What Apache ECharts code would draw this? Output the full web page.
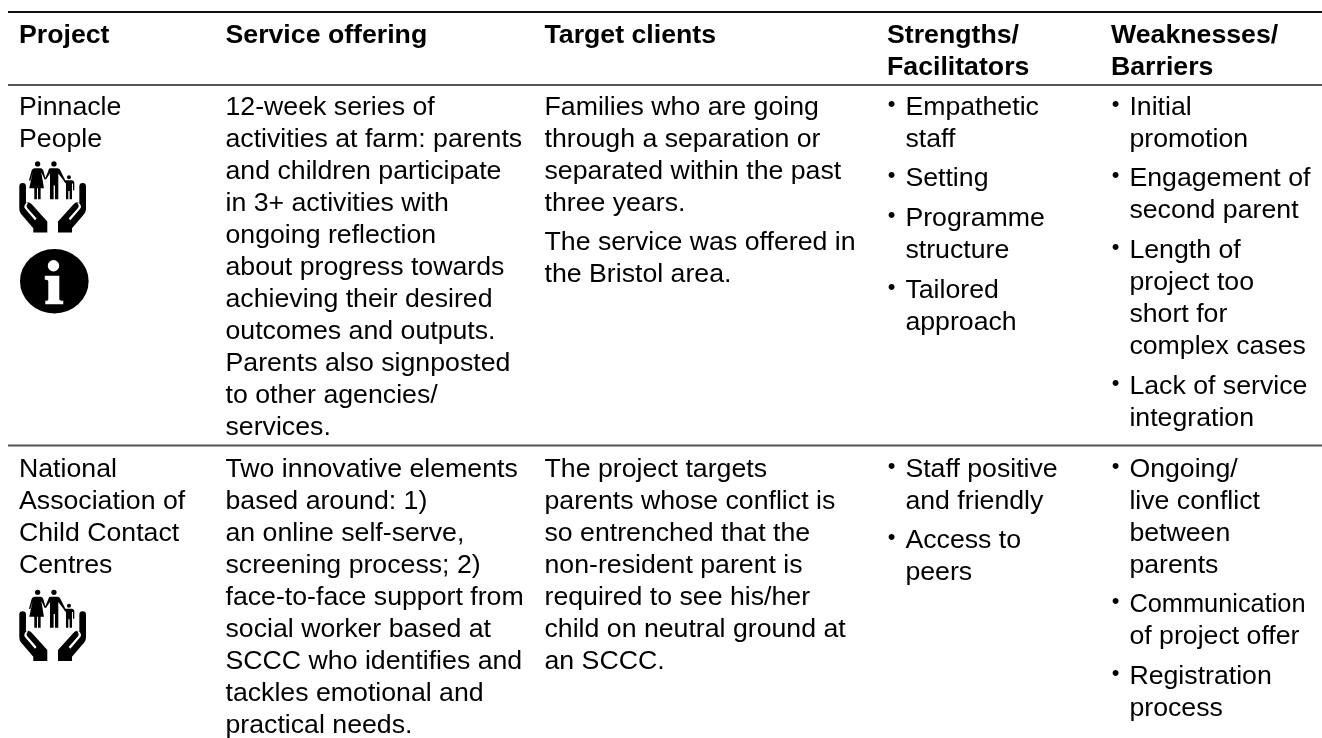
<!DOCTYPE html>
<html>
<head>
<meta charset="utf-8">
<style>html,body{margin:0;padding:0;background:#fff;overflow:hidden}#chart{width:1322px;height:738px}</style>
<script src="https://cdn.jsdelivr.net/npm/echarts@6/dist/echarts.min.js"></script>
</head>
<body>
<div id="chart"></div>
<script>
const headers = [['Project'], ['Service offering'], ['Target clients'], ['Strengths/', 'Facilitators'], ['Weaknesses/', 'Barriers']]

const pinnacleCells = [
  [['Pinnacle', 'People']],
  [['12-week series of', 'activities at farm: parents', 'and children participate', 'in 3+ activities with', 'ongoing reflection', 'about progress towards', 'achieving their desired', 'outcomes and outputs.', 'Parents also signposted', 'to other agencies/', 'services.']],
  [['Families who are going', 'through a separation or', 'separated within the past', 'three years.'], ['The service was offered in', 'the Bristol area.']],
  [['Empathetic', 'staff'], ['Setting'], ['Programme', 'structure'], ['Tailored', 'approach']],
  [['Initial', 'promotion'], ['Engagement of', 'second parent'], ['Length of', 'project too', 'short for', 'complex cases'], ['Lack of service', 'integration']]
]

const naccCells = [
  [['National', 'Association of', 'Child Contact', 'Centres']],
  [['Two innovative elements', 'based around: 1)', 'an online self-serve,', 'screening process; 2)', 'face-to-face support from', 'social worker based at', 'SCCC who identifies and', 'tackles emotional and', 'practical needs.']],
  [['The project targets', 'parents whose conflict is', 'so entrenched that the', 'non-resident parent is', 'required to see his/her', 'child on neutral ground at', 'an SCCC.']],
  [['Staff positive', 'and friendly'], ['Access to', 'peers']],
  [['Ongoing/', 'live conflict', 'between', 'parents'], ['Communication', 'of project offer'], ['Registration', 'process']]
]

const columnX = [19, 225.5, 544.5, 887, 1111]
const bulletColumns = [3, 4]
const INK = '#000'
const LINE = 32
const PARA_GAP = 7.6
const FONT_SIZE = 26.7
const BULLET_SIZE = 22
const BULLET_INDENT = 18.4
// the source squeezes this one word to keep it inside the column
const squeezedLines = { Communication: 0.95 }

// family held in two hands, drawn in a 200 x 273 box and scaled down to 1/3
const FAMILY_PATH = 'M55 59a8 8 0 1 1-.01 0Z M104 59a8 8 0 1 1-.01 0Z M149 101a6 6 0 1 1-.01 0Z' +
  'M46 80H64C68 80 71 83 72 87L79 112 76 114 66 92 74 140H64V173H56V140H53V173H45V140H30L40 92 33 118 29 116 37 87C38 83 42 80 46 80Z' +
  'M92 80H114C119 80 122 83 124 88L139 118 135 120 117 96V173H107V132H103V173H92V96L80 114 77 112 87 88C88 83 90 80 92 80Z' +
  'M141 116H157C161 116 165 119 165 123V146H161V126H158V173H151V148H147V173H140V126L134 120 137 117Z'
const HAND_PATH = 'M0 134A10 10 0 0 1 20 134V184C27 179 34 184 38 189L84 240V273H42V260L6 218C2 213 0 208 0 200Z'
const SLIT_PATH = 'M21 184C15 190 13 196 17 201L47 236 52 231 24 199C20 194 22 189 27 183Z'
const INFO_STEM_PATH = 'M-9.5 -5.5H5V18C5 19 7 19.5 9 19.5V23H-9V19.5C-7 19.5 -6 19 -6 18V0C-6 -1.5 -8 -1.5 -9.5 -1.5Z'

echarts.graphic.registerShape('familyShape', echarts.graphic.extendPath(FAMILY_PATH, {}))
echarts.graphic.registerShape('handShape', echarts.graphic.extendPath(HAND_PATH, {}))
echarts.graphic.registerShape('slitShape', echarts.graphic.extendPath(SLIT_PATH, {}))
echarts.graphic.registerShape('infoStemShape', echarts.graphic.extendPath(INFO_STEM_PATH, {}))

const elements = []

function addText(x, baseline, text, bold, size) {
  elements.push({
    type: 'text',
    x,
    y: baseline - 6.5,
    scaleX: squeezedLines[text] || 1,
    silent: true,
    style: {
      text,
      fill: INK,
      fontFamily: '"Liberation Sans", Arial, sans-serif',
      fontSize: size || FONT_SIZE,
      fontWeight: bold ? 'bold' : 'normal',
      verticalAlign: 'middle'
    }
  })
}

function addRow(cells, baseline) {
  cells.forEach((paragraphs, col) => {
    const bullets = bulletColumns.includes(col)
    let y = baseline
    paragraphs.forEach(lines => {
      lines.forEach((line, i) => {
        if (bullets && i === 0) addText(columnX[col] + 0.8, y - 2.7, '•', false, BULLET_SIZE)
        addText(columnX[col] + (bullets ? BULLET_INDENT : 0), y, line)
        y += LINE
      })
      y += PARA_GAP
    })
  })
}

function addRule(y, width, color) {
  elements.push({
    type: 'line',
    silent: true,
    shape: { x1: 8, y1: y, x2: 1322, y2: y },
    style: { stroke: color, lineWidth: width }
  })
}

function addFamilyIcon(x, y) {
  const third = 1 / 3
  const part = (type, fill, px, sx) => elements.push({ type, x: px, y, scaleX: sx, scaleY: third, silent: true, style: { fill } })
  part('familyShape', '#000', x, third)
  part('handShape', '#000', x, third)
  part('slitShape', '#fff', x, third)
  part('handShape', '#000', x + 66.7, -third)
  part('slitShape', '#fff', x + 66.7, -third)
}

function addInfoIcon(cx, cy) {
  elements.push({ type: 'circle', x: cx, y: cy, scaleY: 0.94, silent: true, shape: { cx: 0, cy: 0, r: 34.3 }, style: { fill: '#000' } })
  elements.push({ type: 'circle', silent: true, shape: { cx: cx - 0.8, cy: cy - 15.5, r: 5.7 }, style: { fill: '#fff' } })
  elements.push({ type: 'infoStemShape', x: cx, y: cy, silent: true, style: { fill: '#fff' } })
}

addRule(12, 2, '#111')
addRule(85, 2, '#555')
addRule(445.5, 2, '#555')

headers.forEach((lines, col) => {
  lines.forEach((line, i) => addText(columnX[col], 42 + i * LINE, line, true))
})
addRow(pinnacleCells, 114)
addRow(naccCells, 475.7)
addFamilyIcon(19.3, 141.6)
addInfoIcon(54.3, 281.2)
addFamilyIcon(19.3, 570)

const chart = echarts.init(document.getElementById('chart'), null, { renderer: 'canvas' })
chart.setOption({ animation: false, graphic: { elements } })
</script>
</body>
</html>
